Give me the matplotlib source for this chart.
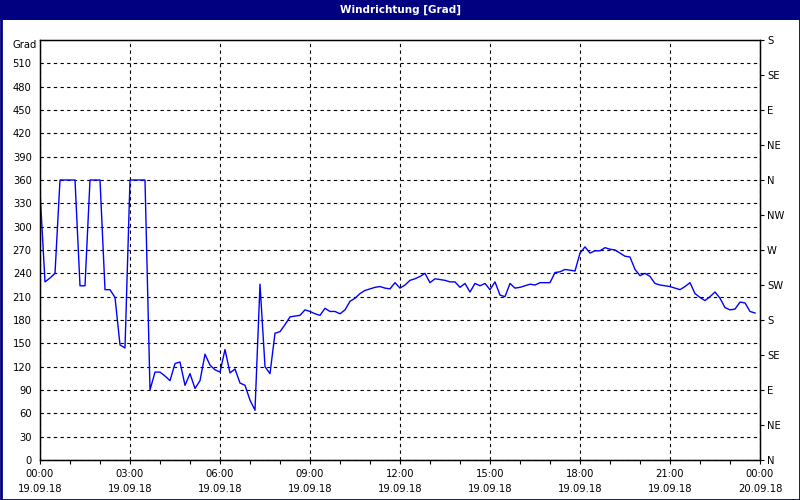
import numpy as np
import pandas as pd
import matplotlib
matplotlib.use("Agg")
import matplotlib.pyplot as plt
import matplotlib.dates as mdates
from matplotlib.patches import Rectangle

# ---- data (10-minute wind direction readings, degrees) ----
start_time = "2018-09-19 00:00"
step = "10min"
direction = [
    345, 229, 234, 240, 360, 360, 360, 360, 224, 224,
    360, 360, 360, 219, 219, 209, 148, 144, 360, 360,
    360, 360, 90, 113, 113, 108, 102, 124, 126, 96,
    111, 92, 102, 136, 122, 116, 113, 142, 112, 117,
    99, 96, 77, 64, 226, 120, 111, 163, 165, 174,
    184, 185, 186, 193, 191, 188, 186, 195, 191, 191,
    188, 193, 204, 208, 214, 218, 220, 222, 223, 221,
    220, 228, 221, 225, 231, 233, 236, 240, 228, 233,
    232, 231, 229, 229, 222, 227, 216, 227, 224, 227,
    219, 229, 212, 210, 227, 221, 222, 224, 226, 225,
    228, 228, 228, 241, 242, 245, 244, 243, 266, 274,
    266, 269, 269, 273, 271, 270, 266, 262, 261, 245,
    237, 240, 236, 227, 225, 224, 223, 221, 219, 223,
    228, 214, 209, 205, 210, 216, 208, 196, 193, 194,
    203, 202, 191, 189,
]
left_ticks = list(range(0, 540, 30))
right_ticks = list(range(0, 541, 45))
right_labels = ["N", "NE", "E", "SE", "S", "SW", "W", "NW", "N", "NE", "E", "SE", "S"]
title = "Windrichtung [Grad]"
unit_label = "Grad"

times = pd.date_range(start_time, periods=len(direction), freq=step)
x0 = pd.Timestamp("2018-09-19 00:00")
x1 = pd.Timestamp("2018-09-20 00:00")

plt.rcParams["font.family"] = ["DejaVu Sans"]
FS = 7.2
NAVY = "#000080"

fig = plt.figure(figsize=(8, 5), dpi=100)
fig.patch.set_facecolor("white")

# title bar and frame
fig.add_artist(Rectangle((0, 1 - 20 / 500), 1, 20 / 500, transform=fig.transFigure,
                         facecolor=NAVY, edgecolor="none", zorder=0))
fig.add_artist(Rectangle((0.5 / 800, 0.5 / 500), 1 - 1 / 800, 1 - 1 / 500, transform=fig.transFigure,
                         facecolor="none", edgecolor=NAVY, linewidth=2, zorder=5))
fig.text(0.5, 1 - 10 / 500, title, color="white", ha="center", va="center",
         fontsize=7.5, fontweight="bold")

ax = fig.add_axes([40 / 800, 40 / 500, 720 / 800, 420 / 500])
ax.plot(times, direction, color="#0000FF", linewidth=1.0, zorder=3)
ax.set_xlim(x0, x1)
ax.set_ylim(0, 540)

for s in ax.spines.values():
    s.set_color("black")
    s.set_linewidth(1.0)

ax.set_yticks(left_ticks)
ax.set_yticklabels([str(v) for v in left_ticks], fontsize=FS)
ax.tick_params(axis="y", left=True, length=0, pad=6)
ax.yaxis.grid(True, color="black", linestyle=(0, (3, 3)), linewidth=0.8)

ax.xaxis.set_major_locator(mdates.HourLocator(interval=3))
ax.xaxis.set_minor_locator(mdates.HourLocator(interval=1))
ax.xaxis.set_major_formatter(mdates.DateFormatter("%H:%M\n%d.%m.%y"))
ax.tick_params(axis="x", which="both", direction="out", length=3, width=0.8, pad=3.5)
for lab in ax.get_xticklabels():
    lab.set_fontsize(FS)
    lab.set_linespacing(1.65)
ax.xaxis.grid(True, which="major", color="black", linestyle=(0, (3, 3)), linewidth=0.8)

ax2 = ax.twinx()
ax2.set_ylim(0, 540)
ax2.set_yticks(right_ticks)
ax2.set_yticklabels(right_labels, fontsize=FS)
ax2.tick_params(axis="y", direction="out", length=3, width=0.8, pad=2)

fig.text(37 / 800, 1 - 45 / 500, unit_label, ha="right", va="center", fontsize=FS)

fig.savefig("out.png", dpi=100)
